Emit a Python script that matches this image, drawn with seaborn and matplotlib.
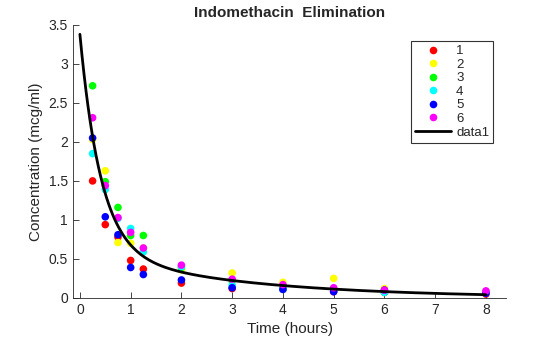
import numpy as np
import pandas as pd
import matplotlib
matplotlib.use("Agg")
import matplotlib.pyplot as plt
import seaborn as sns

times = [0.25, 0.5, 0.75, 1, 1.25, 2, 3, 4, 5, 6, 8]
subj1 = [1.50, 0.94, 0.78, 0.48, 0.37, 0.19, 0.12, 0.11, 0.08, 0.07, 0.05]
subj2 = [2.03, 1.63, 0.71, 0.70, 0.64, 0.36, 0.32, 0.20, 0.25, 0.12, 0.08]
subj3 = [2.72, 1.49, 1.16, 0.80, 0.80, 0.39, 0.22, 0.12, 0.11, 0.08, 0.08]
subj4 = [1.85, 1.39, 1.02, 0.89, 0.59, 0.40, 0.16, 0.11, 0.10, 0.07, 0.07]
subj5 = [2.05, 1.04, 0.81, 0.39, 0.30, 0.23, 0.13, 0.11, 0.08, 0.10, 0.06]
subj6 = [2.31, 1.44, 1.03, 0.84, 0.64, 0.42, 0.24, 0.17, 0.13, 0.10, 0.09]
subjects = ["1", "2", "3", "4", "5", "6"]
colors = ["#ff0000", "#ffff00", "#00ff00", "#00ffff", "#0000ff", "#ff00ff"]

# fitted biexponential model parameters
A1, k1, A2, k2 = 2.773, 2.426, 0.607, 0.336

rows = []
for s, vals in zip(subjects, [subj1, subj2, subj3, subj4, subj5, subj6]):
    for t, c in zip(times, vals):
        rows.append({"Time": t, "Conc": c, "Subject": s})
df = pd.DataFrame(rows)

tfit = np.linspace(0, 8, 200)
fit = pd.DataFrame({"Time": tfit, "Conc": A1*np.exp(-k1*tfit) + A2*np.exp(-k2*tfit)})

sns.set_style("ticks")
plt.rcParams["font.family"] = ["Liberation Sans", "DejaVu Sans"]

fig = plt.figure(figsize=(5.6, 3.37), dpi=100)
ax = fig.add_axes([0.130, 0.116, 0.774, 0.810])

sns.scatterplot(data=df, x="Time", y="Conc", hue="Subject", palette=colors,
                s=30, edgecolor="none", ax=ax, zorder=2)
sns.lineplot(data=fit, x="Time", y="Conc", color="black", linewidth=2,
             label="data1", ax=ax, zorder=3)

ax.set_xlim(-0.14, 8.4)
ax.set_ylim(0, 3.5)
ax.set_xticks(range(0, 9))
ax.set_yticks([0, 0.5, 1, 1.5, 2, 2.5, 3, 3.5])
ax.set_yticklabels(["0", "0.5", "1", "1.5", "2", "2.5", "3", "3.5"])
ax.tick_params(direction="in", length=4, width=0.6, labelsize=10, colors="#262626")
for sp in ["top", "right"]:
    ax.spines[sp].set_visible(False)
for sp in ["left", "bottom"]:
    ax.spines[sp].set_linewidth(0.6)
    ax.spines[sp].set_color("#262626")
ax.set_xlabel("Time (hours)", fontsize=11, color="#262626")
ax.set_ylabel("Concentration (mcg/ml)", fontsize=11, color="#262626")
ax.set_title("Indomethacin  Elimination", fontsize=11, fontweight="bold", pad=6)

leg = ax.legend(loc="upper right", bbox_to_anchor=(0.970, 0.941), borderaxespad=0,
                frameon=True, fancybox=False, edgecolor="black", fontsize=9.5,
                handlelength=2.7, labelspacing=0.1, borderpad=0.3,
                handletextpad=0.4)
leg.get_frame().set_linewidth(0.8)

fig.savefig("out.png", dpi=100, facecolor="white")
